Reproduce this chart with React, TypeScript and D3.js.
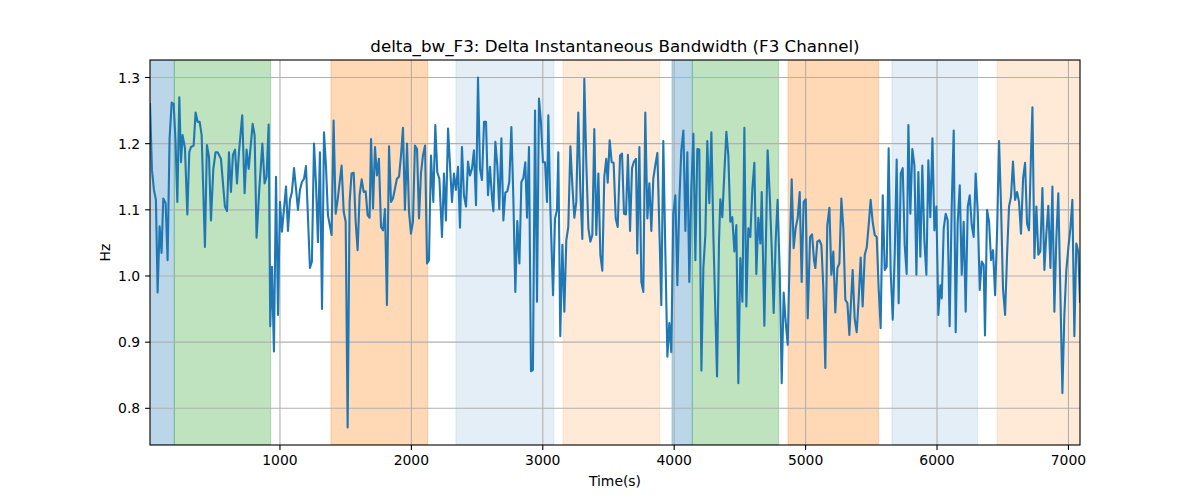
import React from 'react'
import * as d3 from 'd3'

// time (s) and delta bandwidth (Hz)
const samples: [number, number][] = [
  [11, 1.26], [26, 1.16], [41, 1.13], [56, 1.115], [69, 0.975], [84, 1.075], [99, 1.035], [112, 1.117],
  [130, 1.11], [145, 1.024], [160, 1.208], [176, 1.262], [191, 1.26], [205, 1.205], [219, 1.112], [234, 1.27],
  [247, 1.172], [259, 1.213], [277, 1.193], [295, 1.093], [310, 1.187], [323, 1.195], [343, 1.197], [358, 1.247],
  [373, 1.233], [389, 1.233], [404, 1.213], [429, 1.044], [444, 1.198], [460, 1.18], [475, 1.084], [493, 1.162],
  [510, 1.187], [526, 1.187], [551, 1.177], [581, 1.105], [597, 1.098], [612, 1.187], [627, 1.127], [642, 1.183],
  [658, 1.191], [673, 1.14], [688, 1.187], [713, 1.243], [731, 1.125], [746, 1.191], [762, 1.162], [792, 1.23],
  [807, 1.213], [822, 1.058], [843, 1.132], [866, 1.2], [883, 1.14], [898, 1.15], [914, 1.229], [926, 0.924],
  [939, 1.014], [954, 0.886], [970, 1.15], [985, 0.941], [1000, 1.112], [1015, 1.067], [1046, 1.135], [1061, 1.068],
  [1076, 1.115], [1091, 1.127], [1107, 1.163], [1122, 1.132], [1137, 1.1], [1152, 1.13], [1167, 1.142], [1183, 1.147],
  [1198, 1.166], [1228, 1.012], [1243, 1.022], [1259, 1.2], [1274, 1.14], [1289, 1.051], [1304, 1.187], [1320, 0.95],
  [1335, 1.217], [1350, 1.167], [1365, 1.092], [1393, 1.062], [1408, 1.235], [1424, 1.094], [1439, 1.115], [1469, 1.167],
  [1485, 1.097], [1500, 1.082], [1515, 0.771], [1530, 1.112], [1545, 1.155], [1561, 1.156], [1576, 1.082], [1591, 1.039],
  [1606, 1.122], [1622, 1.146], [1637, 1.127], [1652, 1.128], [1667, 1.092], [1682, 1.088], [1693, 1.207], [1708, 1.102],
  [1723, 1.195], [1738, 1.152], [1753, 1.177], [1769, 1.074], [1784, 1.069], [1799, 1.101], [1814, 0.956], [1830, 1.196],
  [1845, 1.112], [1860, 1.117], [1875, 1.132], [1890, 1.147], [1906, 1.15], [1921, 1.182], [1936, 1.224], [1951, 1.1],
  [1967, 1.2], [1982, 1.097], [1997, 1.064], [2012, 1.082], [2027, 1.197], [2043, 1.192], [2058, 1.087], [2073, 1.155],
  [2088, 1.182], [2104, 1.197], [2119, 1.019], [2134, 1.024], [2149, 1.182], [2167, 1.112], [2182, 1.228], [2197, 1.157],
  [2213, 1.147], [2233, 1.059], [2248, 1.155], [2263, 1.084], [2279, 1.223], [2294, 1.167], [2309, 1.112], [2324, 1.155],
  [2339, 1.13], [2355, 1.165], [2370, 1.073], [2385, 1.195], [2400, 1.122], [2416, 1.105], [2431, 1.173], [2446, 1.152],
  [2461, 1.162], [2476, 1.19], [2492, 1.107], [2507, 1.3], [2522, 1.162], [2537, 1.145], [2553, 1.233], [2568, 1.233],
  [2583, 1.122], [2598, 1.165], [2614, 1.117], [2624, 1.098], [2639, 1.203], [2654, 1.167], [2669, 1.101], [2685, 1.208],
  [2700, 1.084], [2715, 1.126], [2730, 1.128], [2745, 1.142], [2761, 1.225], [2776, 1.117], [2791, 0.976], [2806, 1.083],
  [2822, 1.019], [2837, 1.142], [2852, 1.148], [2867, 1.172], [2880, 1.088], [2895, 1.195], [2910, 0.856], [2925, 0.858],
  [2941, 1.25], [2956, 0.961], [2971, 1.268], [2986, 1.233], [3001, 1.172], [3017, 1.172], [3032, 1.112], [3042, 1.243],
  [3057, 1.107], [3078, 0.971], [3093, 1.087], [3108, 1.1], [3118, 1.187], [3133, 0.909], [3149, 1.047], [3164, 0.946],
  [3179, 1.054], [3194, 1.074], [3210, 1.196], [3225, 1.137], [3240, 1.088], [3255, 1.112], [3270, 1.247], [3286, 1.127],
  [3301, 1.056], [3316, 1.298], [3331, 1.172], [3347, 1.072], [3362, 1.052], [3377, 1.062], [3392, 1.222], [3407, 1.062],
  [3423, 1.155], [3438, 1.032], [3453, 1.008], [3468, 1.15], [3483, 1.177], [3494, 1.141], [3509, 1.205], [3524, 1.172],
  [3539, 1.171], [3555, 1.087], [3570, 1.074], [3588, 1.182], [3603, 1.185], [3618, 1.094], [3633, 1.093], [3648, 1.183],
  [3664, 1.068], [3679, 1.163], [3694, 1.173], [3709, 1.177], [3719, 1.034], [3735, 1.195], [3750, 0.991], [3765, 0.976],
  [3780, 1.247], [3796, 1.087], [3811, 1.14], [3826, 1.068], [3841, 1.147], [3856, 1.167], [3872, 1.186], [3887, 1.072],
  [3902, 0.956], [3917, 1.204], [3933, 1.032], [3948, 0.878], [3963, 0.929], [3978, 0.885], [3993, 1.094], [4009, 1.122],
  [4024, 0.986], [4039, 1.112], [4054, 1.19], [4070, 1.22], [4085, 1.068], [4100, 1.187], [4115, 0.991], [4130, 1.131],
  [4146, 1.215], [4161, 1.024], [4176, 1.192], [4191, 1.191], [4207, 0.857], [4222, 1.012], [4237, 1.062], [4252, 1.204],
  [4267, 1.11], [4283, 1.217], [4298, 1.062], [4326, 0.848], [4341, 1.052], [4351, 1.116], [4366, 1.089], [4382, 1.157],
  [4397, 1.218], [4412, 1.182], [4427, 1.082], [4442, 1.089], [4458, 1.037], [4473, 1.077], [4488, 0.838], [4503, 1.027],
  [4519, 0.961], [4534, 1.224], [4549, 0.954], [4564, 1.072], [4579, 1.059], [4595, 1.132], [4610, 1.171], [4625, 1.003],
  [4640, 1.088], [4656, 1.049], [4666, 1.127], [4686, 0.925], [4711, 1.19], [4727, 1.122], [4742, 1.042], [4757, 0.944],
  [4772, 1.052], [4787, 1.115], [4803, 1.007], [4818, 0.838], [4833, 0.975], [4848, 0.931], [4864, 0.896], [4879, 1.032],
  [4894, 1.146], [4909, 1.042], [4924, 1.072], [4940, 1.088], [4955, 1.127], [4970, 0.991], [4985, 1.112], [5001, 1.116],
  [5016, 0.936], [5034, 1.059], [5049, 1.063], [5064, 1.024], [5074, 1.012], [5089, 1.052], [5105, 1.054], [5120, 1.047],
  [5135, 0.981], [5150, 0.861], [5165, 1.077], [5181, 1.103], [5196, 1.002], [5211, 1.037], [5226, 0.945], [5242, 1.012],
  [5257, 1.019], [5272, 1.117], [5287, 1.072], [5302, 0.964], [5318, 0.959], [5333, 0.911], [5348, 0.971], [5358, 1.009],
  [5373, 0.936], [5389, 0.915], [5404, 0.966], [5419, 1.028], [5434, 0.954], [5450, 1.032], [5465, 1.043], [5480, 1.077],
  [5495, 1.115], [5510, 1.082], [5526, 1.062], [5541, 1.059], [5556, 0.981], [5571, 0.921], [5587, 1.122], [5602, 1.009],
  [5617, 1.014], [5632, 1.193], [5647, 1.009], [5663, 0.934], [5678, 1.032], [5693, 1.176], [5708, 0.959], [5724, 1.155],
  [5739, 1.163], [5754, 1.047], [5769, 1.003], [5782, 1.228], [5797, 1.094], [5812, 1.192], [5828, 1.167], [5843, 1.002],
  [5858, 1.157], [5873, 1.029], [5888, 1.167], [5904, 1.052], [5919, 1.002], [5934, 1.175], [5949, 1.089], [5965, 1.208],
  [5980, 1.069], [5995, 1.105], [6010, 0.941], [6025, 0.986], [6036, 0.966], [6051, 1.072], [6066, 1.094], [6081, 1.084],
  [6096, 0.924], [6112, 1.107], [6127, 1.22], [6142, 0.915], [6157, 1.079], [6173, 1.137], [6188, 1.002], [6203, 1.082],
  [6218, 0.946], [6234, 1.105], [6249, 1.122], [6264, 1.077], [6279, 1.059], [6294, 1.155], [6310, 1.097], [6325, 0.979],
  [6340, 1.022], [6355, 1.017], [6365, 0.91], [6381, 1.1], [6396, 1.082], [6411, 1.024], [6426, 1.039], [6442, 0.971],
  [6457, 1.067], [6472, 1.204], [6487, 1.107], [6502, 0.981], [6518, 0.941], [6533, 1.032], [6548, 1.105], [6563, 1.12],
  [6578, 1.173], [6594, 1.115], [6609, 1.127], [6624, 1.112], [6639, 1.064], [6655, 1.148], [6670, 1.171], [6685, 1.079],
  [6700, 1.069], [6715, 1.182], [6726, 1.255], [6741, 1.027], [6756, 1.105], [6771, 1.032], [6786, 1.037], [6802, 1.133],
  [6817, 1.009], [6832, 1.064], [6847, 1.106], [6863, 1.012], [6878, 1.135], [6893, 0.946], [6908, 1.057], [6923, 1.125],
  [6939, 0.971], [6954, 0.823], [6969, 0.941], [6984, 1.009], [7000, 1.044], [7015, 1.072], [7030, 1.115], [7045, 0.909],
  [7060, 1.049], [7075, 1.037], [7088, 0.961],
]

// shaded phases: [start, end, kind]
const phases: [number, number, string][] = [
  [0, 196, 'a'],
  [196, 929, 'b'],
  [1388, 2124, 'c'],
  [2339, 3084, 'd'],
  [3154, 3890, 'e'],
  [3983, 4138, 'a'],
  [4138, 4794, 'b'],
  [4866, 5554, 'c'],
  [5657, 6308, 'd'],
  [6457, 7200, 'e'],
]

const xTicks = [1000, 2000, 3000, 4000, 5000, 6000, 7000]
const yTicks = [0.8, 0.9, 1.0, 1.1, 1.2, 1.3]

const phaseStyle = {
  a: { color: '#1f77b4', opacity: 0.3 },
  b: { color: '#2ca02c', opacity: 0.3 },
  c: { color: '#ff7f0e', opacity: 0.3 },
  d: { color: '#1f77b4', opacity: 0.12 },
  e: { color: '#ff7f0e', opacity: 0.16 },
}

const App = () => {
  const W = 1200
  const H = 500
  const margin = { top: 60, right: 120, bottom: 55, left: 150 }
  const left = margin.left
  const right = W - margin.right
  const top = margin.top
  const bottom = H - margin.bottom

  const font = 'DejaVu Sans, sans-serif'

  //D3 mathy bits
  const xExt = d3.extent(samples, (d) => d[0]) as [number, number]
  const yExt = d3.extent(samples, (d) => d[1]) as [number, number]
  const yPad = (yExt[1] - yExt[0]) * 0.05
  const x = d3.scaleLinear().domain(xExt).range([left, right])
  const y = d3
    .scaleLinear()
    .domain([yExt[0] - yPad, yExt[1] + yPad])
    .range([bottom, top])

  const line = d3
    .line<[number, number]>()
    .x((d) => x(d[0]))
    .y((d) => y(d[1]))

  const tickLen = 4.9
  const axisStroke = { stroke: '#000', strokeWidth: 1.1 }

  return (
    <div style={{ position: 'absolute', left: 0, top: 0 }}>
      <svg width={W} height={H} style={{ display: 'block', background: '#fff' }}>
        <defs>
          <clipPath id="plot">
            <rect x={left} y={top} width={right - left} height={bottom - top} />
          </clipPath>
        </defs>

        <g clipPath="url(#plot)">
          {phases.map(([s, e, k], i) => {
            const st = phaseStyle[k]
            return (
              <rect
                key={i}
                x={x(s)}
                y={top}
                width={x(e) - x(s)}
                height={bottom - top}
                fill={st.color}
                fillOpacity={st.opacity}
                stroke={st.color}
                strokeOpacity={st.opacity}
                strokeWidth={1}
              />
            )
          })}
        </g>

        <g className="grid">
          {xTicks.map((t) => (
            <line key={'gx' + t} x1={x(t)} x2={x(t)} y1={top} y2={bottom} stroke="#b0b0b0" strokeWidth={1.1} />
          ))}
          {yTicks.map((t) => (
            <line key={'gy' + t} x1={left} x2={right} y1={y(t)} y2={y(t)} stroke="#b0b0b0" strokeWidth={1.1} />
          ))}
        </g>

        <g clipPath="url(#plot)">
          <path
            d={line(samples) || ''}
            fill="none"
            stroke="#1f77b4"
            strokeWidth={2.1}
            strokeLinejoin="round"
            strokeLinecap="square"
          />
        </g>

        <rect x={left} y={top} width={right - left} height={bottom - top} fill="none" style={axisStroke} />

        {xTicks.map((t) => (
          <g key={'tx' + t}>
            <line x1={x(t)} x2={x(t)} y1={bottom} y2={bottom + tickLen} style={axisStroke} />
            <text
              x={x(t)}
              y={bottom + tickLen + 4.9 + 10.5}
              textAnchor="middle"
              fontFamily={font}
              fontSize={13.9}
              fill="#000"
            >
              {t}
            </text>
          </g>
        ))}

        {yTicks.map((t) => (
          <g key={'ty' + t}>
            <line x1={left - tickLen} x2={left} y1={y(t)} y2={y(t)} style={axisStroke} />
            <text
              x={left - tickLen - 4.9}
              y={y(t) + 5}
              textAnchor="end"
              fontFamily={font}
              fontSize={13.9}
              fill="#000"
            >
              {d3.format('.1f')(t)}
            </text>
          </g>
        ))}

        <text x={(left + right) / 2} y={51.5} textAnchor="middle" fontFamily={font} fontSize={16.7} fill="#000">
          delta_bw_F3: Delta Instantaneous Bandwidth (F3 Channel)
        </text>
        <text x={(left + right) / 2} y={486} textAnchor="middle" fontFamily={font} fontSize={13.9} fill="#000">
          Time(s)
        </text>
        <text
          transform={`translate(${110},${(top + bottom) / 2}) rotate(-90)`}
          textAnchor="middle"
          fontFamily={font}
          fontSize={13.9}
          fill="#000"
        >
          Hz
        </text>
      </svg>
    </div>
  )
}

export default App
